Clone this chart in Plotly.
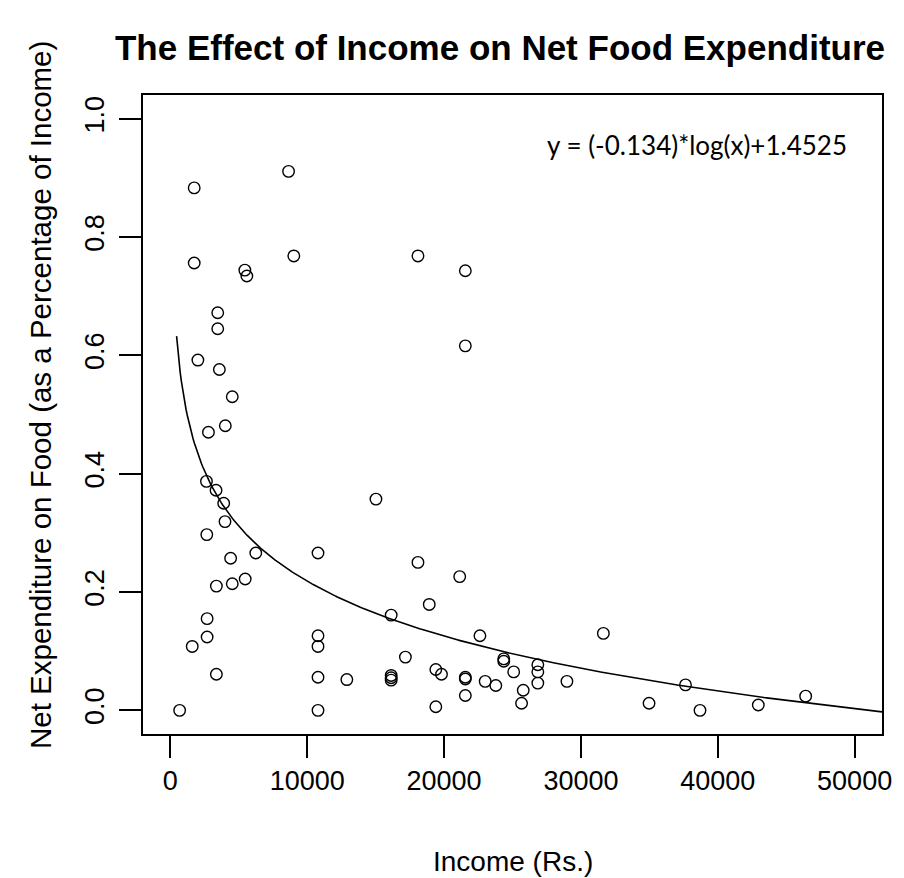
import numpy as np
import plotly.graph_objects as go

# Household income (Rs.) and share of income spent on food
income = [
    1742, 8636, 1742, 5443, 5588, 9021, 18092, 21553, 3461, 3461,
    21553, 2010, 3580, 4523, 2782, 4015, 2637, 3338, 3897, 3991,
    15022, 2661, 4403, 6241, 10788, 18092, 21142, 3362, 4523, 5467,
    18916, 16135, 2685, 2685, 1597, 10788, 10788, 22620, 24361, 24361,
    17174, 3362, 10788, 12895, 16135, 16135, 16135, 19397, 19811, 21553,
    21553, 23004, 23781, 25087, 21553, 19397, 677, 10788, 26850, 26850,
    26850, 25784, 25663, 28977, 31640, 34978, 37641, 38701, 42961, 46422,
]
food_share = [
    0.883, 0.911, 0.756, 0.744, 0.734, 0.768, 0.768, 0.743, 0.672, 0.645,
    0.616, 0.592, 0.576, 0.530, 0.470, 0.481, 0.387, 0.372, 0.350, 0.319,
    0.357, 0.297, 0.257, 0.266, 0.266, 0.250, 0.226, 0.210, 0.214, 0.222,
    0.179, 0.161, 0.155, 0.124, 0.108, 0.126, 0.108, 0.126, 0.087, 0.083,
    0.090, 0.061, 0.056, 0.052, 0.059, 0.055, 0.051, 0.069, 0.061, 0.056,
    0.053, 0.049, 0.042, 0.065, 0.025, 0.006, 0.000, 0.000, 0.077, 0.065,
    0.046, 0.034, 0.012, 0.049, 0.130, 0.012, 0.043, 0.000, 0.009, 0.024,
]

# Fitted logarithmic model
coef_log = -0.134
intercept = 1.4525
x_ticks = [0, 10000, 20000, 30000, 40000, 50000]
y_ticks = [0.0, 0.2, 0.4, 0.6, 0.8, 1.0]

fit_x = np.linspace(455, 52000, 600)
fit_y = coef_log * np.log(fit_x) + intercept

font_main = "Liberation Sans, Arial, Helvetica, sans-serif"

fig = go.Figure()
fig.add_trace(go.Scatter(
    x=income, y=food_share, mode="markers",
    marker=dict(symbol="circle-open", size=11.5, color="black",
                line=dict(color="black", width=1.4)),
    showlegend=False, hoverinfo="x+y",
))
fig.add_trace(go.Scatter(
    x=fit_x, y=fit_y, mode="lines",
    line=dict(color="black", width=1.6),
    showlegend=False, hoverinfo="skip",
))

fig.add_annotation(
    x=38500, y=0.955, xref="x", yref="y",
    text="y = (-0.134)*log(x)+1.4525", showarrow=False,
    font=dict(family="Lato, Open Sans, sans-serif", size=26, color="black"),
    xanchor="center", yanchor="middle",
)
# axis titles
fig.add_annotation(
    x=0.5, y=-0.199, xref="paper", yref="paper",
    text="Income (Rs.)", showarrow=False,
    font=dict(family=font_main, size=28, color="black"),
    xanchor="center", yanchor="middle",
)
fig.add_annotation(
    x=-0.1384, y=0.53, xref="paper", yref="paper",
    text="Net Expenditure on Food (as a Percentage of Income)",
    showarrow=False, textangle=-90,
    font=dict(family=font_main, size=29.5, color="black"),
    xanchor="center", yanchor="middle",
)

fig.update_layout(
    width=904, height=878,
    margin=dict(l=143, r=17, t=95, b=144),
    paper_bgcolor="white", plot_bgcolor="white",
    title=dict(
        text="<b>The Effect of Income on Net Food Expenditure</b>",
        x=500 / 904, xanchor="center",
        y=1 - 48 / 878, yanchor="middle",
        font=dict(family=font_main, size=35, color="black"),
    ),
    xaxis=dict(
        range=[-2000, 52000], tickvals=x_ticks,
        ticktext=[str(v) for v in x_ticks],
        showgrid=False, zeroline=False,
        showline=True, linecolor="black", linewidth=2, mirror=True,
        ticks="outside", ticklen=22, tickwidth=2, tickcolor="black",
        tickfont=dict(family=font_main, size=27, color="black"),
        ticklabelstandoff=0,
    ),
    yaxis=dict(
        range=[-0.04, 1.04], tickvals=y_ticks,
        ticktext=[f"{v:.1f}" for v in y_ticks],
        tickangle=-90,
        showgrid=False, zeroline=False,
        showline=True, linecolor="black", linewidth=2, mirror=True,
        ticks="outside", ticklen=22, tickwidth=2, tickcolor="black",
        tickfont=dict(family=font_main, size=27, color="black"),
        ticklabelstandoff=4,
    ),
)

fig.write_html("out.html")
